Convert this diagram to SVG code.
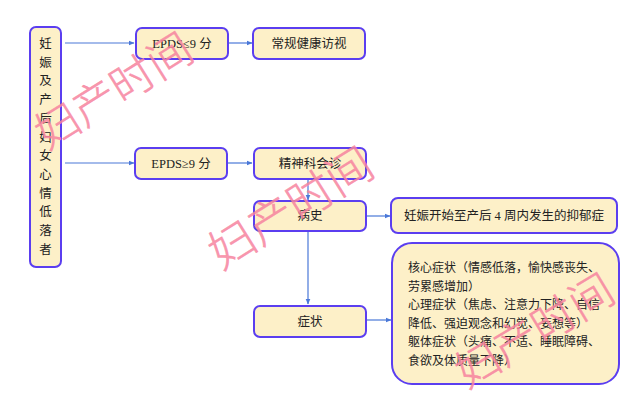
<svg xmlns="http://www.w3.org/2000/svg" width="640" height="402" viewBox="0 0 640 402">
<style>
.box{fill:#FDF0C8;stroke:#5B3EF0;stroke-width:2}
.t{font-family:"Liberation Serif","Noto Sans CJK SC",serif;font-size:12.5px;fill:#222;text-anchor:middle;dominant-baseline:central}
.tl{font-family:"Liberation Serif","Noto Sans CJK SC",serif;font-size:12px;fill:#222;dominant-baseline:central}
.c{stroke:#4A78D8;stroke-width:1.2;fill:none;marker-end:url(#ah)}
.wm{font-family:"Noto Sans CJK SC",sans-serif;font-weight:300;fill:#F7849F;fill-opacity:0.85;stroke:#F7849F;stroke-opacity:0.7;stroke-width:0.6;text-anchor:middle;dominant-baseline:central}
</style>
<defs>
<marker id="ah" markerWidth="6" markerHeight="6" refX="5.5" refY="3" orient="auto" markerUnits="userSpaceOnUse">
<path d="M0,0.5 L6,3 L0,5.5 Z" fill="#4A78D8"/>
</marker>
</defs>
<rect width="640" height="402" fill="#fff"/>
<g id="connectors">
<line class="c" x1="65" y1="43" x2="134" y2="43"/>
<line class="c" x1="229" y1="43" x2="252" y2="43"/>
<line class="c" x1="65" y1="163" x2="134" y2="163"/>
<line class="c" x1="227" y1="163" x2="252" y2="163"/>
<line class="c" x1="308" y1="180" x2="308" y2="200"/>
<line class="c" x1="366" y1="216" x2="390" y2="216"/>
<line class="c" x1="308" y1="231" x2="308" y2="304"/>
<line class="c" x1="366" y1="320" x2="391" y2="320"/>
</g>
<g id="n-left">
<rect class="box" x="30" y="27" width="31" height="240" rx="6"/>
<text class="t" x="45.5" y="44">妊</text>
<text class="t" x="45.5" y="62.7">娠</text>
<text class="t" x="45.5" y="81.4">及</text>
<text class="t" x="45.5" y="100.1">产</text>
<text class="t" x="45.5" y="118.8">后</text>
<text class="t" x="45.5" y="137.5">妇</text>
<text class="t" x="45.5" y="156.2">女</text>
<text class="t" x="45.5" y="174.9">心</text>
<text class="t" x="45.5" y="193.6">情</text>
<text class="t" x="45.5" y="212.3">低</text>
<text class="t" x="45.5" y="231">落</text>
<text class="t" x="45.5" y="249.7">者</text>
</g>
<g id="n-epds-low">
<rect class="box" x="136" y="28" width="92" height="31" rx="6"/>
<text class="t" x="182" y="43.5">EPDS≤9 分</text>
</g>
<g id="n-routine">
<rect class="box" x="253" y="28" width="112" height="31" rx="6"/>
<text class="t" x="309" y="43.5">常规健康访视</text>
</g>
<g id="n-epds-high">
<rect class="box" x="135" y="148" width="92" height="31" rx="6"/>
<text class="t" x="181" y="163.5">EPDS≥9 分</text>
</g>
<g id="n-psych">
<rect class="box" x="254" y="148" width="112" height="31" rx="6"/>
<text class="t" x="310" y="163.5">精神科会诊</text>
</g>
<g id="n-history">
<rect class="box" x="254" y="201" width="112" height="30" rx="6"/>
<text class="t" x="310" y="216">病史</text>
</g>
<g id="n-onset">
<rect class="box" x="391" y="198" width="226" height="35" rx="7"/>
<text class="t" x="504" y="215.5">妊娠开始至产后 4 周内发生的抑郁症</text>
</g>
<g id="n-symptom">
<rect class="box" x="254" y="306" width="112" height="31" rx="6"/>
<text class="t" x="310" y="321.5">症状</text>
</g>
<g id="n-detail">
<rect class="box" x="392" y="243" width="227" height="141" rx="20"/>
<text class="tl" x="408" y="268">核心症状（情感低落，愉快感丧失、</text>
<text class="tl" x="408" y="286.5">劳累感增加）</text>
<text class="tl" x="408" y="305">心理症状（焦虑、注意力下降、自信</text>
<text class="tl" x="408" y="323.5">降低、强迫观念和幻觉、妄想等）</text>
<text class="tl" x="408" y="342">躯体症状（头痛、不适、睡眠障碍、</text>
<text class="tl" x="408" y="360.5">食欲及体质量下降）</text>
</g>
<g id="watermarks">
<text class="wm" font-size="44" x="112" y="88" transform="rotate(-32 112 88)">妇产时间</text>
<text class="wm" font-size="46" x="289" y="205" transform="rotate(-32 289 205)">妇产时间</text>
<text class="wm" font-size="44" x="533" y="328" transform="rotate(-31 533 328)">妇产时间</text>
</g>
</svg>
